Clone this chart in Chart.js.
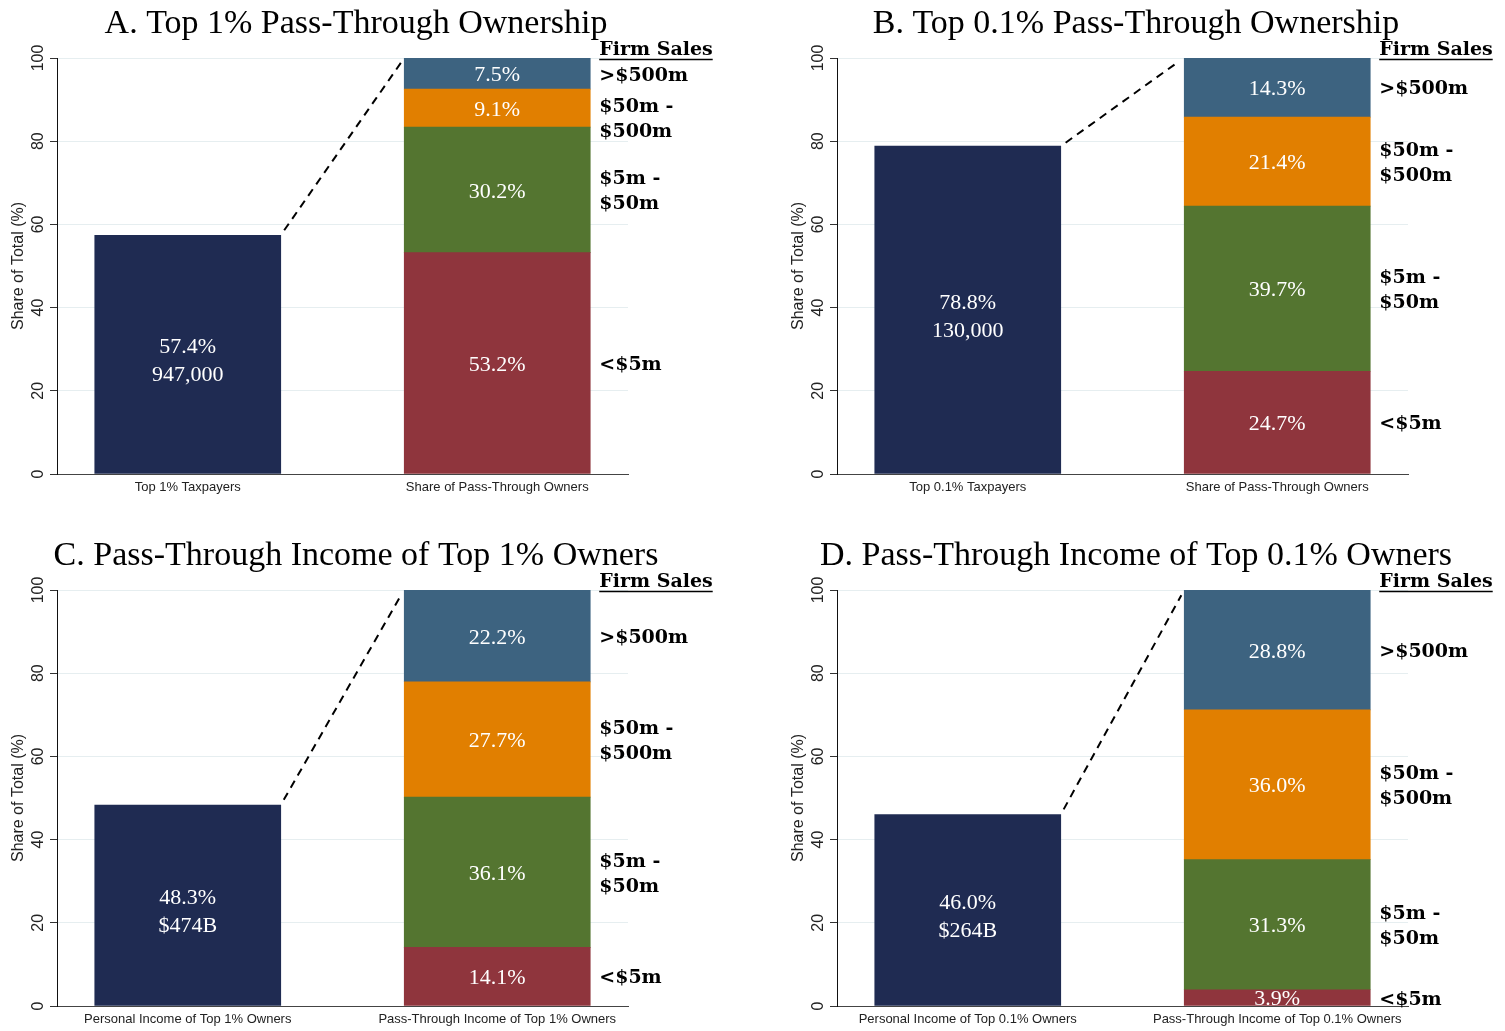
<!DOCTYPE html>
<html>
<head>
<meta charset="utf-8">
<title>Pass-Through Ownership</title>
<script src="https://cdn.jsdelivr.net/npm/chart.js@4.4.0/dist/chart.umd.min.js"></script>
<style>
  body { margin: 0; background: #fff; width: 1505px; height: 1031px; overflow: hidden; position: relative; }
  .panel { position: absolute; }
  .panel canvas { display: block; }
</style>
</head>
<body>
<div class="panel" style="left:0;top:0"><canvas id="panelA" width="725" height="499"></canvas></div>
<div class="panel" style="left:780px;top:0"><canvas id="panelB" width="725" height="499"></canvas></div>
<div class="panel" style="left:0;top:532px"><canvas id="panelC" width="725" height="499"></canvas></div>
<div class="panel" style="left:780px;top:532px"><canvas id="panelD" width="725" height="499"></canvas></div>

<script>
// ----------------------------------------------------------------------
// Data (one entry per panel: A, B, C, D)
// ----------------------------------------------------------------------
const PANEL_TITLES = [
  "A. Top 1% Pass-Through Ownership",
  "B. Top 0.1% Pass-Through Ownership",
  "C. Pass-Through Income of Top 1% Owners",
  "D. Pass-Through Income of Top 0.1% Owners",
];
const LEFT_CATEGORIES = [
  "Top 1% Taxpayers",
  "Top 0.1% Taxpayers",
  "Personal Income of Top 1% Owners",
  "Personal Income of Top 0.1% Owners",
];
const RIGHT_CATEGORIES = [
  "Share of Pass-Through Owners",
  "Share of Pass-Through Owners",
  "Pass-Through Income of Top 1% Owners",
  "Pass-Through Income of Top 0.1% Owners",
];
const LEFT_SHARES = [57.4, 78.8, 48.3, 46.0];
const LEFT_AMOUNTS = ["947,000", "130,000", "$474B", "$264B"];

// firm sales bands, bottom to top of the stacked bar
const SALES_BANDS = ["<$5m", "$5m -\n$50m", "$50m -\n$500m", ">$500m"];
const UNDER_5M = [53.2, 24.7, 14.1, 3.9];
const FROM_5M_TO_50M = [30.2, 39.7, 36.1, 31.3];
const FROM_50M_TO_500M = [9.1, 21.4, 27.7, 36.0];
const OVER_500M = [7.5, 14.3, 22.2, 28.8];

const Y_TICKS = [0, 20, 40, 60, 80, 100];
const SALES_HEADER = "Firm Sales";
const Y_TITLE = "Share of Total (%)";

// ----------------------------------------------------------------------
// Styling
// ----------------------------------------------------------------------
const NAVY = "#1f2b52";
const BAND_COLORS = ["#8f353d", "#547530", "#e17f00", "#3d6380"];
const SANS = "'Liberation Sans', Arial, sans-serif";
const SERIF = "'Liberation Serif', 'Times New Roman', serif";
const BOLD_SERIF = "'DejaVu Serif', serif";
const LEFT_X = 0.229;
const RIGHT_X = 0.771;
const BAR_WIDTH = 186;

// ----------------------------------------------------------------------
// Decorations: title, value labels, dashed connector, firm-sales labels
// ----------------------------------------------------------------------
const panelDecor = {
  id: "panelDecor",
  afterDatasetsDraw(chart, args, opts) {
    const ctx = chart.ctx;
    const area = chart.chartArea;
    ctx.save();

    // panel title
    ctx.fillStyle = "#000";
    ctx.font = `34px ${SERIF}`;
    ctx.textAlign = "center";
    ctx.textBaseline = "middle";
    ctx.fillText(opts.title, 356, 24);

    // values inside the bars
    ctx.fillStyle = "#fff";
    ctx.font = `22px ${SERIF}`;
    chart.data.datasets.forEach((ds, d) => {
      const bar = chart.getDatasetMeta(d).data[0];
      const mid = (bar.y + bar.base) / 2 + 2;
      if (ds.valueLines.length === 2) {
        ctx.fillText(ds.valueLines[0], bar.x, mid - 9);
        ctx.fillText(ds.valueLines[1], bar.x, mid + 19);
      } else {
        ctx.fillText(ds.valueLines[0], bar.x, mid);
      }
    });

    // dashed connector from the left bar to the top of the stack
    const leftBar = chart.getDatasetMeta(0).data[0];
    const topSeg = chart.getDatasetMeta(chart.data.datasets.length - 1).data[0];
    const x0 = leftBar.x + leftBar.width / 2, y0 = leftBar.y;
    const x1 = topSeg.x - topSeg.width / 2, y1 = topSeg.y;
    const len = Math.hypot(x1 - x0, y1 - y0);
    const ux = (x1 - x0) / len, uy = (y1 - y0) / len;
    ctx.strokeStyle = "#000";
    ctx.lineWidth = 2;
    ctx.setLineDash([8, 6]);
    ctx.beginPath();
    ctx.moveTo(x0 + ux * 6, y0 + uy * 6);
    ctx.lineTo(x1 - ux * 6, y1 - uy * 6);
    ctx.stroke();
    ctx.setLineDash([]);

    // firm-sales labels to the right of the stack
    const labelX = topSeg.x + topSeg.width / 2 + 9;
    ctx.fillStyle = "#000";
    ctx.textAlign = "left";
    ctx.font = `bold 19px ${BOLD_SERIF}`;
    ctx.fillText(SALES_HEADER, labelX, area.top - 8);
    const hw = ctx.measureText(SALES_HEADER).width;
    ctx.lineWidth = 1.5;
    ctx.beginPath();
    ctx.moveTo(labelX, area.top + 1.5);
    ctx.lineTo(labelX + hw, area.top + 1.5);
    ctx.stroke();

    let lastLine = -Infinity;
    for (let d = chart.data.datasets.length - 1; d >= 1; d--) {
      const seg = chart.getDatasetMeta(d).data[0];
      const lines = chart.data.datasets[d].label.split("\n");
      const mid = (seg.y + seg.base) / 2 + 2;
      let first = mid - (lines.length - 1) * 25 / 2;
      if (first < lastLine + 31) first = lastLine + 31;
      lines.forEach((ln, k) => ctx.fillText(ln, labelX, first + k * 25));
      lastLine = first + (lines.length - 1) * 25;
    }
    ctx.restore();
  },
};

function makePanel(canvasId, i) {
  const segments = [UNDER_5M[i], FROM_5M_TO_50M[i], FROM_50M_TO_500M[i], OVER_500M[i]];
  const datasets = [{
    label: LEFT_CATEGORIES[i],
    data: [{ x: LEFT_X, y: LEFT_SHARES[i] }],
    backgroundColor: NAVY,
    barThickness: BAR_WIDTH,
    valueLines: [LEFT_SHARES[i].toFixed(1) + "%", LEFT_AMOUNTS[i]],
  }];
  segments.forEach((v, k) => {
    datasets.push({
      label: SALES_BANDS[k],
      data: [{ x: RIGHT_X, y: v }],
      backgroundColor: BAND_COLORS[k],
      barThickness: BAR_WIDTH,
      valueLines: [v.toFixed(1) + "%"],
    });
  });

  return new Chart(document.getElementById(canvasId), {
    type: "bar",
    data: { datasets },
    plugins: [panelDecor],
    options: {
      responsive: false,
      animation: false,
      layout: { padding: { top: 58, right: 97, left: 0, bottom: 0 } },
      plugins: {
        legend: { display: false },
        tooltip: { enabled: false },
        panelDecor: { title: PANEL_TITLES[i] },
      },
      scales: {
        x: {
          type: "linear",
          min: 0,
          max: 1,
          offset: false,
          stacked: true,
          afterBuildTicks: (s) => { s.ticks = [{ value: LEFT_X }, { value: RIGHT_X }]; },
          afterFit: (s) => { s.height = 25; },
          ticks: {
            callback: (v, k) => (k === 0 ? LEFT_CATEGORIES[i] : RIGHT_CATEGORIES[i]),
            color: "#222",
            font: { family: SANS, size: 13 },
            padding: 6,
            maxRotation: 0,
            autoSkip: false,
          },
          grid: { display: true, drawOnChartArea: false, drawTicks: false },
          border: { display: true, color: "#444", width: 1 },
        },
        y: {
          stacked: true,
          min: 0,
          max: 100,
          afterBuildTicks: (s) => { s.ticks = Y_TICKS.map((v) => ({ value: v })); },
          afterFit: (s) => { s.width = 57; },
          ticks: {
            minRotation: 90,
            maxRotation: 90,
            crossAlign: "center",
            autoSkip: false,
            color: "#222",
            font: { family: SANS, size: 16 },
            padding: -2,
          },
          grid: { color: "#e6eef0", lineWidth: 1, tickLength: 7, tickColor: "#333" },
          border: { color: "#111", width: 1 },
          title: {
            display: true,
            text: Y_TITLE,
            color: "#222",
            font: { family: SANS, size: 16 },
            padding: { top: 9, bottom: 0 },
          },
        },
      },
    },
  });
}

["panelA", "panelB", "panelC", "panelD"].forEach((id, i) => makePanel(id, i));
</script>
</body>
</html>
